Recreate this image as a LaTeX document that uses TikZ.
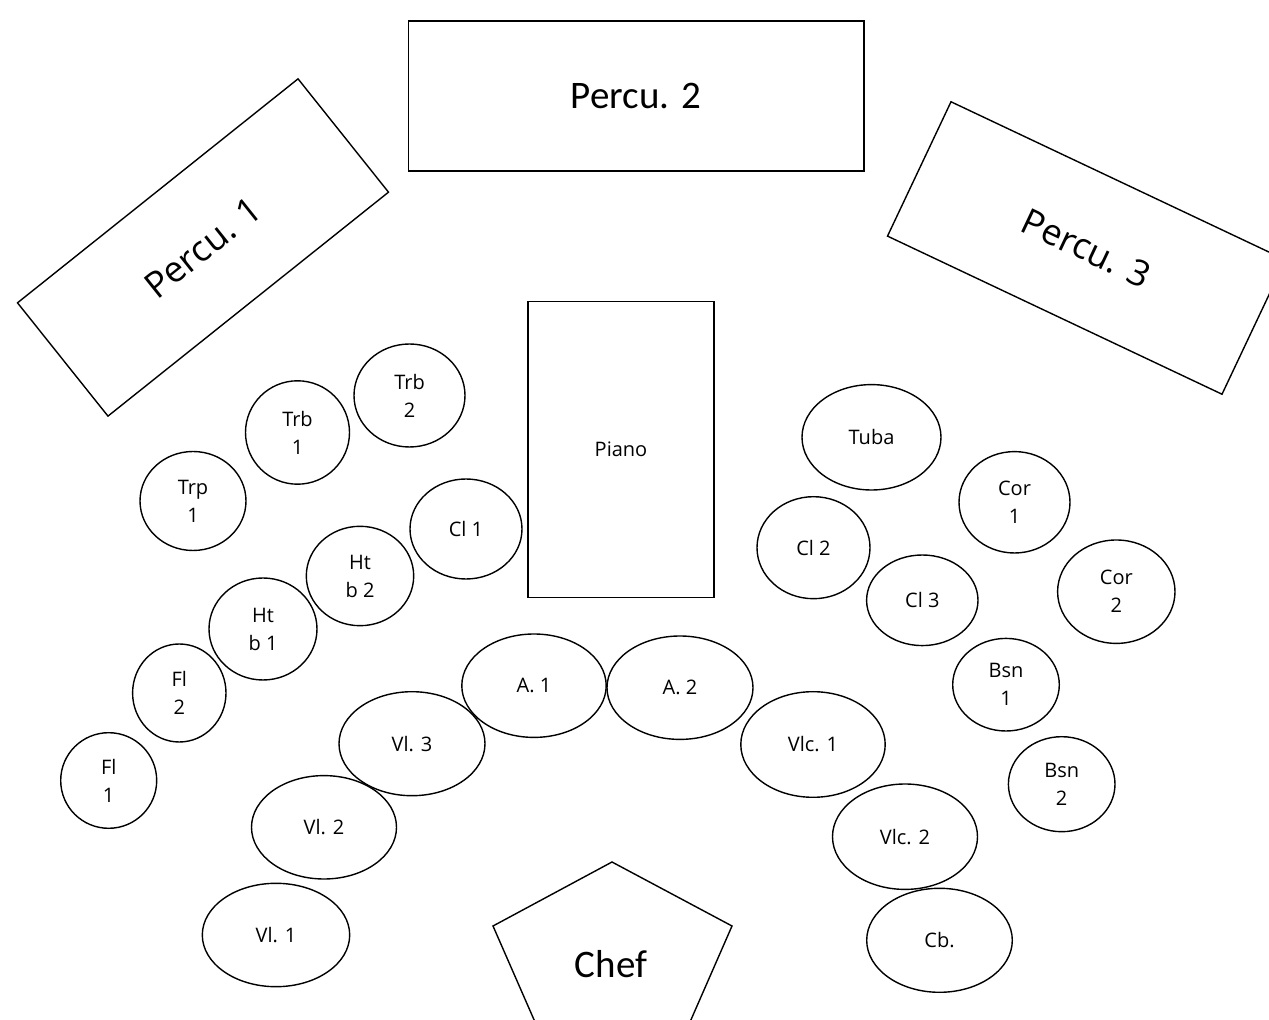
\documentclass[tikz,border=0pt]{standalone}
\usepackage{fontspec}
\setmainfont{Open Sans}
\newfontfamily\calfont{Carlito}
\usetikzlibrary{shapes.geometric}

\begin{document}
\begin{tikzpicture}[x=0.5pt, y=-0.5pt, line width=0.7pt,
          font=\fontsize{10}{14}\selectfont,
          seat/.style 2 args={ellipse, draw, inner sep=0pt, align=center,
                              minimum width=#1pt, minimum height=#2pt},
          kit/.style ={rectangle, draw, inner sep=0pt,
                       font=\fontsize{18}{20}\selectfont},
          big/.style ={font=\calfont\fontsize{19.5}{22}\selectfont}]
        \clip (0,0) rectangle (1269,1020);
        % percussion, piano
        \node[kit, rotate=38.6, minimum width=179.5pt, minimum height=72.5pt] (perca) at (203,247.5) {Percu. 1};
        \node[kit, big, minimum width=227.8pt, minimum height=75pt] (percb) at (636,96) {Percu. 2};
        \node[kit, rotate=-25.3, minimum width=185pt, minimum height=74.3pt] (percc) at (1086.5,248) {Percu. 3};
        \node[rectangle, draw, minimum width=92.9pt, minimum height=148pt] (piano) at (621,449.7) {Piano};
        % left side
        \node[seat={53}{49.5}]   (trpa) at (193,501)     {Trp\\1};
        \node[seat={52}{51.7}]   (trba) at (297.5,432.5) {Trb\\1};
        \node[seat={55.5}{51.5}] (trbb) at (409.5,395.5) {Trb\\2};
        \node[seat={56}{50}]     (cla)  at (466,529)     {Cl 1};
        \node[seat={53.7}{49.7}] (htbb) at (360,576)     {Ht\\b 2};
        \node[seat={54}{51}]     (htba) at (263,629)     {Ht\\b 1};
        \node[seat={46.7}{49}]   (flb)  at (179.3,693)   {Fl\\2};
        \node[seat={48}{47.8}]   (fla)  at (108.7,780.5) {Fl\\1};
        % strings
        \node[seat={73.7}{51.7}] (vla) at (276,935)     {Vl. 1};
        \node[seat={72.5}{51.7}] (vlb) at (324,827.3)   {Vl. 2};
        \node[seat={73}{52}]     (vlc) at (412,743.7)   {Vl. 3};
        \node[seat={72.2}{51.7}] (aa)  at (534,685.7)   {A. 1};
        \node[seat={73}{51.7}]   (ab)  at (680,687.7)   {A. 2};
        \node[seat={72.2}{52.8}] (vca) at (813,744.5)   {Vlc. 1};
        \node[seat={72.5}{52.7}] (vcb) at (905,836.7)   {Vlc. 2};
        \node[seat={72.8}{52}]   (cb)  at (939.5,940.3) {Cb.};
        % right side
        \node[seat={69.5}{52.7}] (tuba) at (871.5,437.3)  {Tuba};
        \node[seat={55.5}{50.7}] (cora) at (1014.5,502.3) {Cor\\1};
        \node[seat={58.7}{51.7}] (corb) at (1116.3,591.7) {Cor\\2};
        \node[seat={56.5}{51}]   (clb)  at (813.5,547.7)  {Cl 2};
        \node[seat={55.7}{45.3}] (clc)  at (922.3,600.3)  {Cl 3};
        \node[seat={53.3}{46.3}] (bsna) at (1006,684.7)   {Bsn\\1};
        \node[seat={53.3}{47.5}] (bsnb) at (1061.7,784.2) {Bsn\\2};
        % conductor
        \draw (612,862) -- (732,926) -- (686.5,1030) -- (538.5,1030) -- (493,926) -- cycle;
        \node[big] (chef) at (611,964) {Chef};
      \end{tikzpicture}
\end{document}
